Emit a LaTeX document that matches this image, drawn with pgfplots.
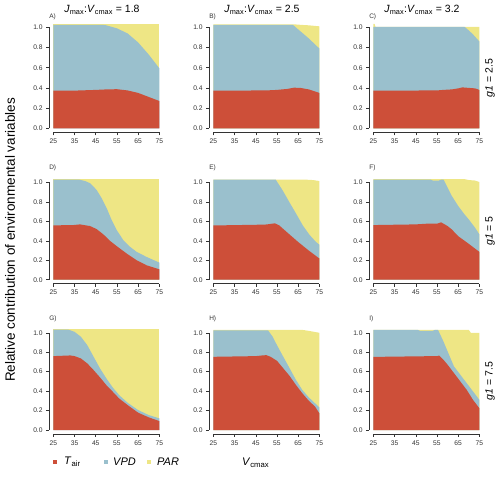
\documentclass[border=0pt]{standalone}
\usepackage{pgfplots}
\pgfplotsset{compat=1.18}
\usepackage{fontspec}
\setmainfont{Liberation Sans}
\definecolor{cT}{HTML}{CD4F39}
\definecolor{cV}{HTML}{9AC0CD}
\definecolor{cP}{HTML}{EEE685}
\definecolor{axc}{HTML}{333333}
\pgfplotsset{
  panel/.style={
    scale only axis, width=114.5pt,
    xmin=23, xmax=77, ymin=-0.04, ymax=1.04,
    axis lines*=left, axis line style={draw=none},
    xtick={25,35,45,55,65,75},
    ytick={0,0.2,0.4,0.6,0.8,1.0},
    tick align=outside, major tick length=3pt,
    tick style={axc, line width=0.5pt},
    ticklabel style={font=\fontsize{6.7}{7}\selectfont, text=axc},
    /pgf/number format/assume math mode=true,
    yticklabel style={/pgf/number format/.cd, fixed, fixed zerofill, precision=1},
    xticklabel style={/pgf/number format/.cd, fixed, precision=0},
    clip=false,
  },
  row1/.style={height=109pt},
  row2/.style={height=105pt},
}
\tikzset{axl/.style={axc, line width=0.5pt}}
\newcommand{\axlines}{%
  \draw[axl] (axis cs:23,0) -- (axis cs:23,1);
  \draw[axl] (axis cs:25,-0.04) -- (axis cs:75,-0.04);}
\begin{document}
\begin{tikzpicture}
\useasboundingbox (0,0) rectangle (500pt,477pt);
% ---------------- Row 1 ----------------
\begin{axis}[panel,row1,at={(49.1pt,344.7pt)}]
\addplot[fill=cP,draw=none] coordinates {(25,0)(25,1.03)(75,1.03)(75,0)};
\addplot[fill=cV,draw=none] coordinates {(25,0)(25,1.025)(48,1.025)(50,1.02)(55,0.99)(60,0.94)(65,0.85)(70,0.73)(75,0.594)(75,0)};
\addplot[fill=cT,draw=none] coordinates {(25,0)(25,0.372)(35,0.373)(45,0.38)(50,0.385)(55,0.387)(60,0.375)(65,0.35)(70,0.31)(75,0.27)(75,0)};
\axlines
\end{axis}
\begin{axis}[panel,row1,at={(209.1pt,344.7pt)}]
\addplot[fill=cP,draw=none] coordinates {(25,0)(25,1.03)(63,1.03)(66,1.025)(70,1.02)(75,1.01)(75,0)};
\addplot[fill=cV,draw=none] coordinates {(25,0)(25,1.025)(62.5,1.025)(65,0.98)(70,0.89)(75,0.79)(75,0)};
\addplot[fill=cT,draw=none] coordinates {(25,0)(25,0.372)(50,0.375)(55,0.38)(60,0.39)(63,0.402)(66,0.40)(70,0.385)(75,0.35)(75,0)};
\axlines
\end{axis}
\begin{axis}[panel,row1,at={(369.1pt,344.7pt)}]
\addplot[fill=cP,draw=none] coordinates {(25,0)(25,1.035)(25.6,1.035)(26,1.005)(75,1.005)(75,0)};
\addplot[fill=cV,draw=none] coordinates {(25,0)(25,1.005)(68,1.005)(70,0.97)(72,0.93)(75,0.86)(75,0)};
\addplot[fill=cT,draw=none] coordinates {(25,0)(25,0.372)(55,0.375)(58,0.38)(62,0.385)(65,0.395)(67,0.405)(70,0.40)(73,0.395)(75,0.38)(75,0)};
\axlines
\end{axis}
% ---------------- Row 2 ----------------
\begin{axis}[panel,row2,at={(49.1pt,193.4pt)}]
\addplot[fill=cP,draw=none] coordinates {(25,0)(25,1.034)(75,1.034)(75,0)};
\addplot[fill=cV,draw=none] coordinates {(25,0)(25,1.03)(37,1.03)(40,1.015)(42.3,0.993)(45.4,0.924)(47.8,0.838)(50.2,0.734)(52.5,0.614)(54.9,0.51)(58,0.407)(61.2,0.338)(64.3,0.286)(69,0.234)(75,0.176)(75,0)};
\addplot[fill=cT,draw=none] coordinates {(25,0)(25,0.559)(34.4,0.562)(37.6,0.569)(42.3,0.552)(45.4,0.521)(48.6,0.466)(51.7,0.4)(54.9,0.345)(59.6,0.269)(64.3,0.2)(69,0.148)(75,0.107)(75,0)};
\axlines
\end{axis}
\begin{axis}[panel,row2,at={(209.1pt,193.4pt)}]
\addplot[fill=cP,draw=none] coordinates {(25,0)(25,1.03)(68,1.03)(72,1.025)(75,1.015)(75,0)};
\addplot[fill=cV,draw=none] coordinates {(25,0)(25,1.03)(54.4,1.03)(57.8,0.915)(60.9,0.796)(64.1,0.677)(67.2,0.558)(70.3,0.463)(73.4,0.388)(75,0.36)(75,0)};
\addplot[fill=cT,draw=none] coordinates {(25,0)(25,0.558)(45,0.565)(50,0.568)(54,0.58)(56,0.56)(60,0.483)(65,0.388)(70,0.3)(75,0.218)(75,0)};
\axlines
\end{axis}
\begin{axis}[panel,row2,at={(369.1pt,193.4pt)}]
\addplot[fill=cP,draw=none] coordinates {(25,0)(25,1.035)(68,1.035)(70,1.025)(73,1.02)(75,1.005)(75,0)};
\addplot[fill=cV,draw=none] coordinates {(25,0)(25,1.03)(52,1.03)(53,1.02)(56,1.02)(57,1.03)(58.1,1.03)(60,0.948)(62,0.862)(65,0.759)(68,0.672)(70,0.62)(73,0.534)(75,0.466)(75,0)};
\addplot[fill=cT,draw=none] coordinates {(25,0)(25,0.562)(45,0.569)(50,0.576)(55,0.576)(57,0.59)(60,0.552)(62,0.517)(65,0.448)(70,0.369)(75,0.286)(75,0)};
\axlines
\end{axis}
% ---------------- Row 3 ----------------
\begin{axis}[panel,row2,at={(49.1pt,43.1pt)}]
\addplot[fill=cP,draw=none] coordinates {(25,0)(25,1.035)(75,1.035)(75,0)};
\addplot[fill=cV,draw=none] coordinates {(25,0)(25,1.033)(32,1.033)(35,1.01)(38,0.959)(41,0.873)(44,0.753)(47,0.634)(50,0.531)(53,0.438)(56,0.36)(60,0.281)(65,0.205)(70,0.154)(75,0.12)(75,0)};
\addplot[fill=cT,draw=none] coordinates {(25,0)(25,0.76)(33,0.767)(35,0.76)(38,0.736)(41,0.685)(44,0.616)(47,0.541)(50,0.462)(53,0.394)(56,0.325)(60,0.257)(65,0.178)(70,0.13)(75,0.092)(75,0)};
\axlines
\end{axis}
\begin{axis}[panel,row2,at={(209.1pt,43.1pt)}]
\addplot[fill=cP,draw=none] coordinates {(25,0)(25,1.03)(67,1.03)(70,1.02)(75,1.0)(75,0)};
\addplot[fill=cV,draw=none] coordinates {(25,0)(25,1.025)(50.8,1.025)(53,0.959)(55,0.873)(58,0.753)(61,0.634)(64,0.514)(67,0.411)(70,0.336)(73,0.274)(75,0.233)(75,0)};
\addplot[fill=cT,draw=none] coordinates {(25,0)(25,0.753)(45,0.76)(48,0.767)(50,0.77)(52,0.753)(55,0.712)(58,0.634)(61,0.555)(64,0.462)(67,0.377)(70,0.301)(73,0.24)(75,0.171)(75,0)};
\axlines
\end{axis}
\begin{axis}[panel,row2,at={(369.1pt,43.1pt)}]
\addplot[fill=cP,draw=none] coordinates {(25,0)(25,1.03)(70,1.03)(71,1.0)(75,1.0)(75,0)};
\addplot[fill=cV,draw=none] coordinates {(25,0)(25,1.03)(46,1.03)(47,1.02)(53,1.02)(54,1.03)(55.5,1.03)(58,0.914)(60,0.81)(63,0.655)(66,0.569)(69,0.483)(72,0.397)(75,0.31)(75,0)};
\addplot[fill=cT,draw=none] coordinates {(25,0)(25,0.752)(50,0.759)(55,0.759)(56,0.766)(58,0.724)(60,0.672)(63,0.586)(66,0.5)(69,0.414)(72,0.31)(75,0.224)(75,0)};
\axlines
\end{axis}
% ---------------- Annotations ----------------
\begin{scope}[font=\fontsize{10.5}{12}\selectfont]
\node at (102pt,467pt) {\textit{J}\textsubscript{max}:\textit{V}\textsubscript{cmax} = 1.8};
\node at (262pt,467pt) {\textit{J}\textsubscript{max}:\textit{V}\textsubscript{cmax} = 2.5};
\node at (422pt,467pt) {\textit{J}\textsubscript{max}:\textit{V}\textsubscript{cmax} = 3.2};
\node[rotate=90] at (490pt,399pt) {\textit{g1} = 2.5};
\node[rotate=90] at (490pt,246pt) {\textit{g1} = 5};
\node[rotate=90] at (490pt,96pt) {\textit{g1} = 7.5};
\end{scope}
\begin{scope}[font=\fontsize{6.5}{7}\selectfont, text=axc]
\node[anchor=west,inner sep=0pt] at (49.1pt,460pt) {A)};
\node[anchor=west,inner sep=0pt] at (209.1pt,460pt) {B)};
\node[anchor=west,inner sep=0pt] at (369.1pt,460pt) {C)};
\node[anchor=west,inner sep=0pt] at (49.1pt,309pt) {D)};
\node[anchor=west,inner sep=0pt] at (209.1pt,309pt) {E)};
\node[anchor=west,inner sep=0pt] at (369.1pt,309pt) {F)};
\node[anchor=west,inner sep=0pt] at (49.1pt,158pt) {G)};
\node[anchor=west,inner sep=0pt] at (209.1pt,158pt) {H)};
\node[anchor=west,inner sep=0pt] at (369.1pt,158pt) {I)};
\end{scope}
\node[rotate=90, font=\fontsize{13.5}{15}\selectfont] at (10pt,237pt) {Relative contribution of environmental variables};
% legend
\fill[cT] (53pt,13pt) rectangle (57pt,17pt);
\fill[cV] (104pt,13pt) rectangle (108pt,17pt);
\fill[cP] (147pt,13pt) rectangle (151pt,17pt);
\begin{scope}[font=\fontsize{11}{13}\selectfont]
\node[anchor=west,inner sep=0pt] at (64pt,15pt) {\textit{T}\textsubscript{air}};
\node[anchor=west,inner sep=0pt] at (113pt,15pt) {\textit{VPD}};
\node[anchor=west,inner sep=0pt] at (157pt,15pt) {\textit{PAR}};
\node[anchor=west,inner sep=0pt] at (242pt,14pt) {\textit{V}\textsubscript{cmax}};
\end{scope}
\end{tikzpicture}
\end{document}
